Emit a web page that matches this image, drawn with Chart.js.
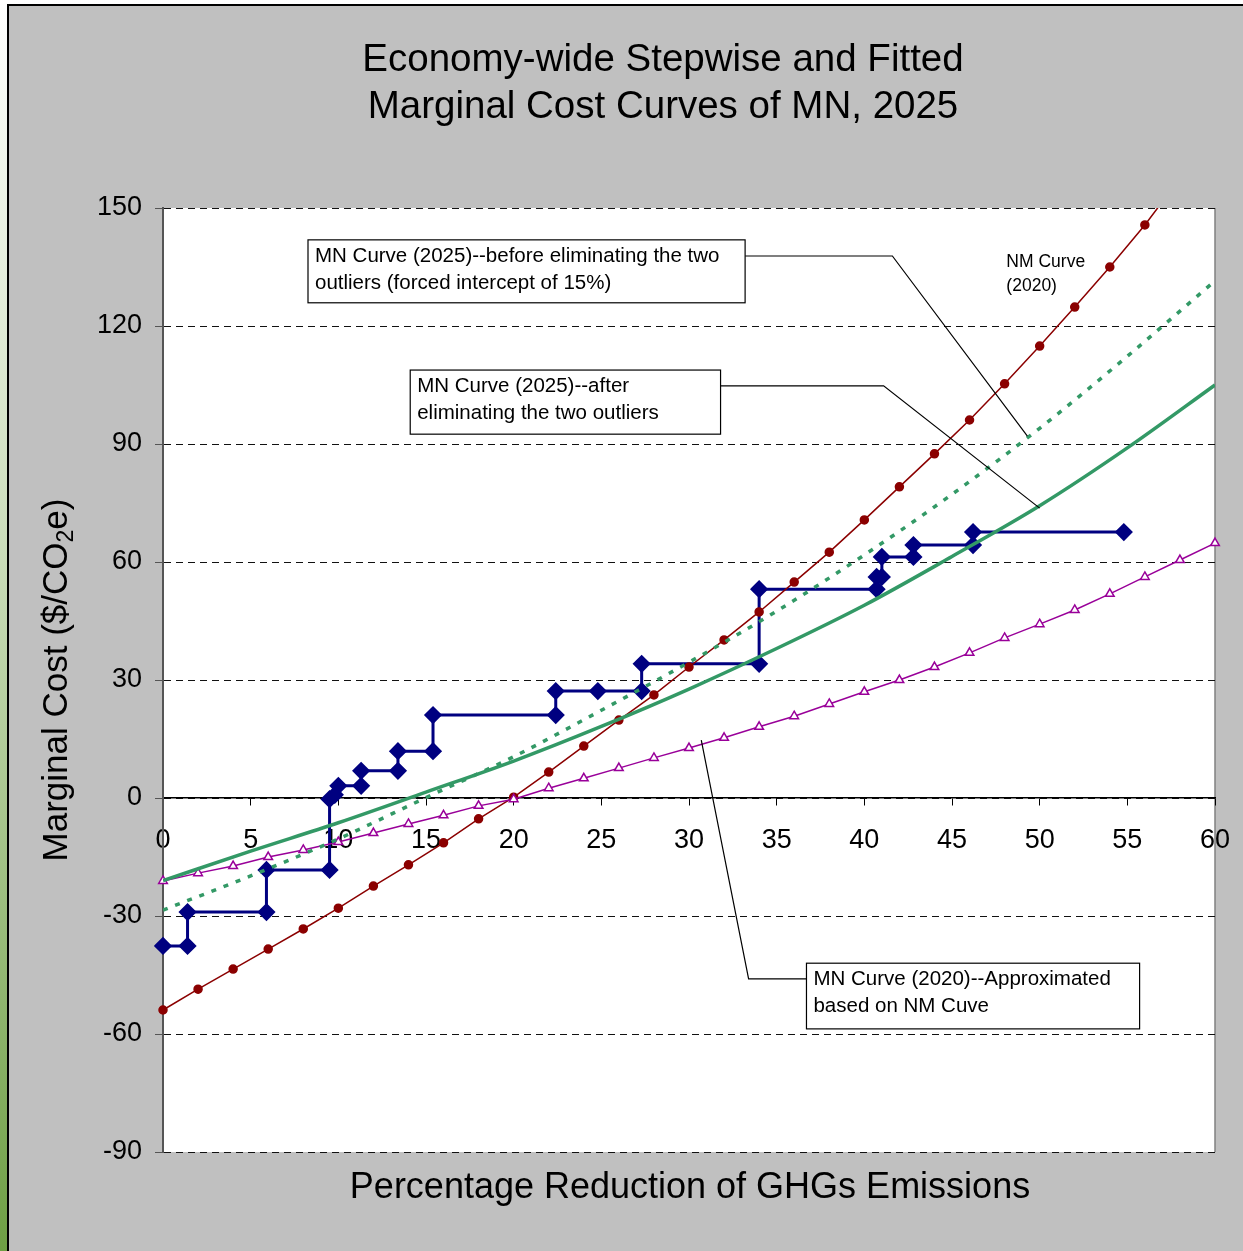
<!DOCTYPE html>
<html>
<head>
<meta charset="utf-8">
<script src="https://cdn.jsdelivr.net/npm/chart.js@4.4.0/dist/chart.umd.min.js"></script>
<style>
html, body { margin: 0; padding: 0; width: 1243px; height: 1251px; overflow: hidden;
  background: linear-gradient(#ffffff 0%, #c9dcb8 45%, #6e9f44 100%); }
#c { position: absolute; left: 0; top: 0; }
</style>
</head>
<body>
<canvas id="c" width="1243" height="1251"></canvas>
<script>
// NM curve (2020), red dots
var nmPct  = [0, 2, 4, 6, 8, 10, 12, 14, 16, 18, 20, 22, 24, 26, 28, 30, 32, 34, 36, 38, 40, 42, 44, 46, 48, 50, 52, 54, 56, 58];
var nmCost = [-53.9, -48.6, -43.5, -38.4, -33.3, -28.0, -22.4, -17.0, -11.4, -5.3, 0.2, 6.6, 13.2, 19.8, 26.2, 33.3, 40.2, 47.3, 54.9, 62.5, 70.7, 79.1, 87.5, 96.1, 105.3, 114.9, 124.8, 135.0, 145.7, 157.5];

// MN curve (2020) approximated, purple triangles
var mn20Pct  = [0, 2, 4, 6, 8, 10, 12, 14, 16, 18, 20, 22, 24, 26, 28, 30, 32, 34, 36, 38, 40, 42, 44, 46, 48, 50, 52, 54, 56, 58, 60];
var mn20Cost = [-21.1, -19.1, -17.3, -15.0, -13.2, -11.2, -8.9, -6.6, -4.4, -2.0, -0.3, 2.5, 5.0, 7.6, 10.2, 12.7, 15.3, 18.1, 20.8, 23.9, 27.0, 30.0, 33.3, 36.9, 40.7, 44.2, 47.8, 51.9, 56.2, 60.5, 64.8];

// fitted MN curves (2025)
var fitPct    = [0, 5, 10, 15, 20, 25, 30, 35, 40, 45, 50, 55, 60];
var fitAfter  = [-21.0, -13.5, -6.3, 1.5, 9.4, 18.2, 27.7, 38.0, 49.0, 61.4, 74.3, 89.0, 105.0];
var fitBefore = [-28.5, -19.8, -10.4, 0.1, 10.5, 22.3, 34.5, 47.5, 61.8, 77.2, 94.0, 112.3, 131.5];

// stepwise curve
var stepPct  = [0, 1.4, 1.4, 5.9, 5.9, 9.5, 9.5, 9.8, 10.0, 11.3, 11.3, 13.4, 13.4, 15.4, 15.4, 22.4, 22.4, 24.8, 27.3, 27.3, 34.0, 34.0, 40.7, 40.7, 41.0, 41.0, 42.8, 42.8, 46.2, 46.2, 54.8];
var stepCost = [-37.6, -37.6, -29.0, -29.0, -18.3, -18.3, -0.3, 0.8, 3.1, 3.1, 6.9, 6.9, 11.9, 11.9, 21.1, 21.1, 27.2, 27.2, 27.2, 34.1, 34.1, 53.1, 53.1, 56.2, 56.2, 61.3, 61.3, 64.3, 64.3, 67.6, 67.6];

var titleLines = ['Economy-wide Stepwise and Fitted', 'Marginal Cost Curves of MN, 2025'];
var xTitle = 'Percentage Reduction of GHGs Emissions';

function pts(xs, ys) {
    return xs.map(function (x, i) { return {x: x, y: ys[i]}; });
}

// text boxes: box corners in data units, leader line in data units
var notes = [
    {box: [8.27, 141.9, 33.2, 125.9], lines: ['MN Curve (2025)--before eliminating the two', 'outliers (forced intercept of 15%)'],
     leader: [[33.2, 137.8], [41.6, 137.8], [49.3, 92.0]]},
    {box: [14.1, 108.8, 31.8, 92.5], lines: ['MN Curve (2025)--after', 'eliminating the two outliers'],
     leader: [[31.8, 104.8], [41.1, 104.8], [50.0, 73.7]]},
    {box: [36.7, -42.0, 55.7, -58.7], lines: ['MN Curve (2020)--Approximated', 'based on NM Cuve'],
     leader: [[36.7, -46.0], [33.4, -46.0], [30.7, 14.7]]}
];
var nmLabel = {x: 48.1, y: 136.3, lines: ['NM Curve', '(2020)']};

var FONT = '"Liberation Sans", Arial, sans-serif';

var frame = {
    id: 'frame',
    beforeDraw: function (chart) {
        var ctx = chart.ctx, a = chart.chartArea;
        ctx.save();
        ctx.fillStyle = '#c0c0c0';
        ctx.fillRect(8, 5, chart.width - 8, chart.height - 5);
        ctx.strokeStyle = '#000';
        ctx.lineWidth = 2;
        ctx.beginPath();
        ctx.moveTo(8, chart.height);
        ctx.lineTo(8, 5);
        ctx.lineTo(chart.width, 5);
        ctx.stroke();
        ctx.fillStyle = '#fff';
        ctx.fillRect(a.left, a.top, a.right - a.left, a.bottom - a.top);
        ctx.strokeStyle = '#808080';
        ctx.lineWidth = 1.5;
        ctx.beginPath();
        ctx.moveTo(a.right, a.top);
        ctx.lineTo(a.right, a.bottom);
        ctx.stroke();
        ctx.restore();
    },
    afterDatasetsDraw: function (chart) {
        var ctx = chart.ctx, xs = chart.scales.x, ys = chart.scales.y;
        ctx.save();
        notes.forEach(function (n) {
            ctx.strokeStyle = '#000';
            ctx.lineWidth = 1.2;
            ctx.beginPath();
            n.leader.forEach(function (p, i) {
                var px = xs.getPixelForValue(p[0]), py = ys.getPixelForValue(p[1]);
                if (i === 0) ctx.moveTo(px, py); else ctx.lineTo(px, py);
            });
            ctx.stroke();
            var l = xs.getPixelForValue(n.box[0]), t = ys.getPixelForValue(n.box[1]);
            var r = xs.getPixelForValue(n.box[2]), b = ys.getPixelForValue(n.box[3]);
            ctx.fillStyle = '#fff';
            ctx.fillRect(l, t, r - l, b - t);
            ctx.lineWidth = 1.2;
            ctx.strokeRect(l, t, r - l, b - t);
            ctx.fillStyle = '#000';
            ctx.font = '20.5px ' + FONT;
            ctx.textAlign = 'left';
            ctx.textBaseline = 'middle';
            n.lines.forEach(function (s, i) {
                ctx.fillText(s, l + 7, t + 16 + i * 27);
            });
        });
        ctx.font = '17.5px ' + FONT;
        ctx.textAlign = 'left';
        ctx.textBaseline = 'middle';
        var nx = xs.getPixelForValue(nmLabel.x), ny = ys.getPixelForValue(nmLabel.y);
        nmLabel.lines.forEach(function (s, i) { ctx.fillText(s, nx, ny + i * 24); });
        ctx.restore();
    },
    afterDraw: function (chart) {
        var ctx = chart.ctx;
        ctx.save();
        ctx.fillStyle = '#000';
        ctx.textAlign = 'center';
        ctx.textBaseline = 'middle';
        ctx.font = '38.5px ' + FONT;
        titleLines.forEach(function (s, i) { ctx.fillText(s, 663, 60 + i * 47); });
        ctx.font = '36px ' + FONT;
        ctx.fillText(xTitle, 690, 1188);
        // y title with subscript
        ctx.translate(55, 680);
        ctx.rotate(-Math.PI / 2);
        var p1 = 'Marginal Cost ($/CO', p2 = '2', p3 = 'e)';
        ctx.font = '35px ' + FONT;
        var w1 = ctx.measureText(p1).width, w3 = ctx.measureText(p3).width;
        ctx.font = '23px ' + FONT;
        var w2 = ctx.measureText(p2).width;
        var x0 = -(w1 + w2 + w3) / 2;
        ctx.textAlign = 'left';
        ctx.textBaseline = 'alphabetic';
        ctx.font = '35px ' + FONT;
        ctx.fillText(p1, x0, 12);
        ctx.font = '23px ' + FONT;
        ctx.fillText(p2, x0 + w1, 18);
        ctx.font = '35px ' + FONT;
        ctx.fillText(p3, x0 + w1 + w2, 12);
        ctx.restore();
    }
};

new Chart(document.getElementById('c'), {
    type: 'scatter',
    data: {
        datasets: [{
            label: 'MN Curve (2025) before',
            data: pts(fitPct, fitBefore),
            showLine: true,
            borderColor: '#339966',
            borderWidth: 3.5,
            borderDash: [5, 8],
            pointRadius: 0,
            cubicInterpolationMode: 'monotone'
        }, {
            label: 'MN Curve (2025) after',
            data: pts(fitPct, fitAfter),
            showLine: true,
            borderColor: '#339966',
            borderWidth: 3.5,
            pointRadius: 0,
            cubicInterpolationMode: 'monotone'
        }, {
            label: 'MN Curve (2020)',
            data: pts(mn20Pct, mn20Cost),
            showLine: true,
            borderColor: '#990099',
            borderWidth: 1.5,
            pointStyle: 'triangle',
            pointRadius: 5,
            pointBorderWidth: 1.5,
            pointBackgroundColor: '#fff',
            pointBorderColor: '#990099',
            clip: {left: 8, right: 8, top: 8, bottom: 8}
        }, {
            label: 'NM Curve (2020)',
            data: pts(nmPct, nmCost),
            showLine: true,
            borderColor: '#8b0000',
            borderWidth: 1.5,
            pointRadius: 4,
            pointBackgroundColor: '#8b0000',
            pointBorderColor: '#8b0000',
            clip: {left: 8, right: 8, top: 0, bottom: 8}
        }, {
            label: 'Stepwise',
            data: pts(stepPct, stepCost),
            showLine: true,
            borderColor: '#000080',
            borderWidth: 3,
            pointStyle: 'rectRot',
            pointRadius: 7,
            pointBackgroundColor: '#000080',
            pointBorderColor: '#000080',
            clip: false
        }]
    },
    options: {
        responsive: false,
        animation: false,
        layout: {padding: {left: 0, top: 208, right: 28, bottom: 99}},
        plugins: {legend: {display: false}, tooltip: {enabled: false}},
        scales: {
            x: {
                type: 'linear',
                position: {y: 0},
                min: 0, max: 60,
                afterFit: function (s) { s.height = 0; s.paddingLeft = 0; s.paddingRight = 0; },
                ticks: {stepSize: 5, color: '#000', padding: 19, maxRotation: 0,
                        font: {size: 27, family: FONT}},
                grid: {drawOnChartArea: false, color: '#000', tickLength: 7, tickWidth: 1},
                border: {color: '#000', width: 1.5}
            },
            y: {
                min: -90, max: 150,
                afterFit: function (s) { s.width = 163; s.paddingTop = 0; s.paddingBottom = 0; },
                ticks: {stepSize: 30, color: '#000', padding: 13,
                        font: {size: 27, family: FONT}},
                grid: {color: '#111', lineWidth: 1, tickLength: 8, tickColor: '#555', tickBorderDash: []},
                border: {color: '#555', width: 2, dash: [7, 5]}
            }
        }
    },
    plugins: [frame]
});
</script>
</body>
</html>
